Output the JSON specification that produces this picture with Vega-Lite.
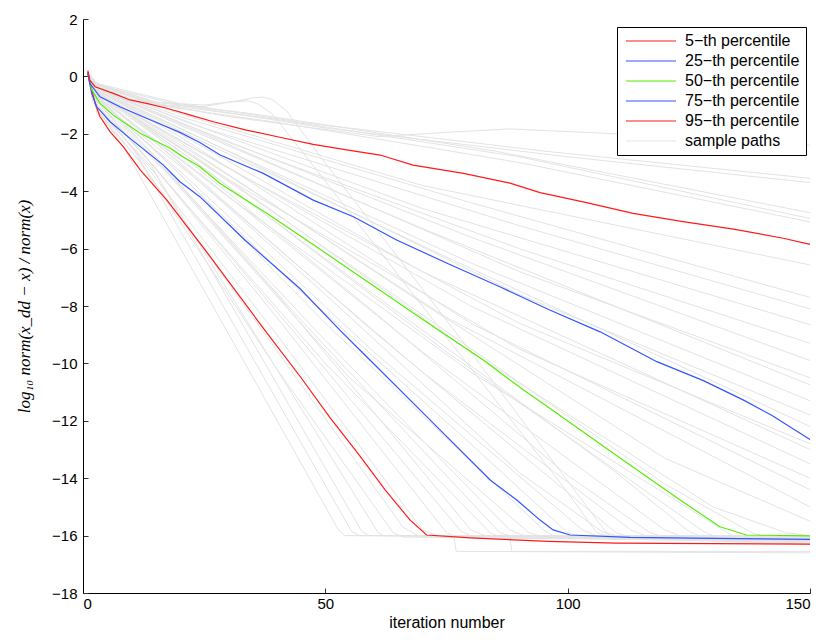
{
  "$schema": "https://vega.github.io/schema/vega-lite/v6.json",
  "width": 727,
  "height": 574,
  "autosize": {"type": "none"},
  "padding": {"left": 83, "top": 19, "right": 20, "bottom": 47},
  "background": "white",
  "config": {
    "view": {"stroke": null},
    "font": "Liberation Sans",
    "axis": {"grid": false, "domainColor": "#000", "tickColor": "#333", "labelColor": "#000", "titleColor": "#000", "labelFontSize": 15, "titleFontSize": 16, "titleFontWeight": "normal", "tickSize": -5}
  },
  "datasets": {
    "pct": [
      {"s":"5−th percentile","i":1,"v":0.15},{"s":"5−th percentile","i":1.5,"v":-0.25},{"s":"5−th percentile","i":2.5,"v":-0.94},{"s":"5−th percentile","i":3.5,"v":-1.4},{"s":"5−th percentile","i":5.6,"v":-1.93},{"s":"5−th percentile","i":8.3,"v":-2.45},{"s":"5−th percentile","i":11.8,"v":-3.26},{"s":"5−th percentile","i":17.3,"v":-4.31},{"s":"5−th percentile","i":25,"v":-6.0},{"s":"5−th percentile","i":37.5,"v":-8.84},{"s":"5−th percentile","i":45,"v":-10.5},{"s":"5−th percentile","i":51,"v":-11.9},{"s":"5−th percentile","i":57,"v":-13.2},{"s":"5−th percentile","i":62.3,"v":-14.4},{"s":"5−th percentile","i":67.5,"v":-15.46},{"s":"5−th percentile","i":70.9,"v":-15.98},{"s":"5−th percentile","i":80,"v":-16.08},{"s":"5−th percentile","i":96,"v":-16.2},{"s":"5−th percentile","i":110,"v":-16.26},{"s":"5−th percentile","i":150,"v":-16.3},
      {"s":"25−th percentile","i":1,"v":0.1},{"s":"25−th percentile","i":1.8,"v":-0.59},{"s":"25−th percentile","i":2.8,"v":-1.05},{"s":"25−th percentile","i":5.6,"v":-1.58},{"s":"25−th percentile","i":9.7,"v":-2.16},{"s":"25−th percentile","i":16.6,"v":-3.09},{"s":"25−th percentile","i":20,"v":-3.67},{"s":"25−th percentile","i":24.1,"v":-4.19},{"s":"25−th percentile","i":33.4,"v":-5.7},{"s":"25−th percentile","i":44.8,"v":-7.4},{"s":"25−th percentile","i":53,"v":-8.84},{"s":"25−th percentile","i":59.2,"v":-9.88},{"s":"25−th percentile","i":71.6,"v":-11.97},{"s":"25−th percentile","i":84,"v":-14.06},{"s":"25−th percentile","i":89.5,"v":-14.76},{"s":"25−th percentile","i":94.3,"v":-15.46},{"s":"25−th percentile","i":97,"v":-15.8},{"s":"25−th percentile","i":100.5,"v":-15.98},{"s":"25−th percentile","i":112.9,"v":-16.06},{"s":"25−th percentile","i":130,"v":-16.1},{"s":"25−th percentile","i":150,"v":-16.13},
      {"s":"50−th percentile","i":1,"v":0.13},{"s":"50−th percentile","i":1.8,"v":-0.47},{"s":"50−th percentile","i":3.5,"v":-0.94},{"s":"50−th percentile","i":6.25,"v":-1.35},{"s":"50−th percentile","i":11.8,"v":-1.98},{"s":"50−th percentile","i":18,"v":-2.5},{"s":"50−th percentile","i":20,"v":-2.74},{"s":"50−th percentile","i":24.1,"v":-3.15},{"s":"50−th percentile","i":28.3,"v":-3.73},{"s":"50−th percentile","i":37.9,"v":-4.77},{"s":"50−th percentile","i":46.1,"v":-5.7},{"s":"50−th percentile","i":60,"v":-7.3},{"s":"50−th percentile","i":73.3,"v":-8.84},{"s":"50−th percentile","i":82.6,"v":-9.88},{"s":"50−th percentile","i":90.9,"v":-10.93},{"s":"50−th percentile","i":96.3,"v":-11.56},{"s":"50−th percentile","i":110,"v":-13.2},{"s":"50−th percentile","i":123.2,"v":-14.76},{"s":"50−th percentile","i":131.4,"v":-15.69},{"s":"50−th percentile","i":136.9,"v":-15.98},{"s":"50−th percentile","i":150,"v":-16.01},
      {"s":"75−th percentile","i":1,"v":0.13},{"s":"75−th percentile","i":1.4,"v":-0.24},{"s":"75−th percentile","i":3.5,"v":-0.71},{"s":"75−th percentile","i":7.6,"v":-1.06},{"s":"75−th percentile","i":13.1,"v":-1.46},{"s":"75−th percentile","i":20,"v":-1.95},{"s":"75−th percentile","i":24.1,"v":-2.3},{"s":"75−th percentile","i":28.3,"v":-2.74},{"s":"75−th percentile","i":37.2,"v":-3.38},{"s":"75−th percentile","i":47.5,"v":-4.31},{"s":"75−th percentile","i":55.8,"v":-4.89},{"s":"75−th percentile","i":64.7,"v":-5.7},{"s":"75−th percentile","i":75,"v":-6.5},{"s":"75−th percentile","i":86,"v":-7.33},{"s":"75−th percentile","i":96.3,"v":-8.14},{"s":"75−th percentile","i":106.7,"v":-8.9},{"s":"75−th percentile","i":118.4,"v":-9.94},{"s":"75−th percentile","i":128,"v":-10.6},{"s":"75−th percentile","i":136.3,"v":-11.28},{"s":"75−th percentile","i":142,"v":-11.8},{"s":"75−th percentile","i":150,"v":-12.65},
      {"s":"95−th percentile","i":1,"v":0.2},{"s":"95−th percentile","i":1.4,"v":-0.13},{"s":"95−th percentile","i":2.5,"v":-0.36},{"s":"95−th percentile","i":6.25,"v":-0.59},{"s":"95−th percentile","i":9.7,"v":-0.82},{"s":"95−th percentile","i":13.1,"v":-0.94},{"s":"95−th percentile","i":17.3,"v":-1.11},{"s":"95−th percentile","i":22,"v":-1.34},{"s":"95−th percentile","i":26.9,"v":-1.58},{"s":"95−th percentile","i":33.7,"v":-1.87},{"s":"95−th percentile","i":40.6,"v":-2.12},{"s":"95−th percentile","i":47.5,"v":-2.37},{"s":"95−th percentile","i":54.4,"v":-2.56},{"s":"95−th percentile","i":61.3,"v":-2.74},{"s":"95−th percentile","i":68.1,"v":-3.09},{"s":"95−th percentile","i":78.5,"v":-3.38},{"s":"95−th percentile","i":88.1,"v":-3.72},{"s":"95−th percentile","i":94.3,"v":-4.05},{"s":"95−th percentile","i":103.2,"v":-4.37},{"s":"95−th percentile","i":113.5,"v":-4.77},{"s":"95−th percentile","i":123.8,"v":-5.06},{"s":"95−th percentile","i":134.2,"v":-5.32},{"s":"95−th percentile","i":144.5,"v":-5.64},{"s":"95−th percentile","i":150,"v":-5.85}
    ],
    "paths": [
      {"p":1,"i":1,"v":0.12},{"p":1,"i":2,"v":-0.9},{"p":1,"i":8.7,"v":-2.56},{"p":1,"i":52.7,"v":-15.8},{"p":1,"i":54,"v":-16.0},{"p":1,"i":150,"v":-16.05},
      {"p":2,"i":1,"v":0.1},{"p":2,"i":2,"v":-0.8},{"p":2,"i":10.7,"v":-2.6},{"p":2,"i":55.4,"v":-15.85},{"p":2,"i":57,"v":-16.0},{"p":2,"i":150,"v":-16.1},
      {"p":3,"i":1,"v":0.15},{"p":3,"i":3,"v":-1.2},{"p":3,"i":14.2,"v":-3.15},{"p":3,"i":57.5,"v":-15.85},{"p":3,"i":59,"v":-16.0},{"p":3,"i":150,"v":-16.0},
      {"p":4,"i":1,"v":0.1},{"p":4,"i":3,"v":-1.1},{"p":4,"i":15,"v":-3.4},{"p":4,"i":60.9,"v":-15.9},{"p":4,"i":62,"v":-16.0},{"p":4,"i":150,"v":-16.15},
      {"p":5,"i":1,"v":0.1},{"p":5,"i":3,"v":-1.3},{"p":5,"i":12,"v":-3.0},{"p":5,"i":40,"v":-10.2},{"p":5,"i":64,"v":-15.9},{"p":5,"i":66,"v":-16.05},{"p":5,"i":150,"v":-16.2},
      {"p":6,"i":1,"v":0.12},{"p":6,"i":3,"v":-1.2},{"p":6,"i":10,"v":-2.6},{"p":6,"i":30,"v":-7.2},{"p":6,"i":66,"v":-15.7},{"p":6,"i":69,"v":-16.0},{"p":6,"i":150,"v":-16.1},
      {"p":7,"i":1,"v":0.1},{"p":7,"i":3,"v":-1.0},{"p":7,"i":12,"v":-2.9},{"p":7,"i":40,"v":-9.0},{"p":7,"i":70,"v":-15.8},{"p":7,"i":73,"v":-16.0},{"p":7,"i":150,"v":-16.25},
      {"p":8,"i":1,"v":0.1},{"p":8,"i":3,"v":-0.9},{"p":8,"i":12,"v":-2.6},{"p":8,"i":40,"v":-8.4},{"p":8,"i":75,"v":-15.9},{"p":8,"i":76.5,"v":-16.0},{"p":8,"i":77,"v":-16.55},{"p":8,"i":150,"v":-16.6},
      {"p":9,"i":1,"v":0.15},{"p":9,"i":3,"v":-1.0},{"p":9,"i":15,"v":-3.2},{"p":9,"i":45,"v":-9.2},{"p":9,"i":78,"v":-15.85},{"p":9,"i":80,"v":-16.0},{"p":9,"i":150,"v":-16.2},
      {"p":10,"i":1,"v":0.1},{"p":10,"i":3,"v":-0.8},{"p":10,"i":12,"v":-2.3},{"p":10,"i":40,"v":-7.6},{"p":10,"i":80,"v":-15.8},{"p":10,"i":83,"v":-16.0},{"p":10,"i":150,"v":-16.1},
      {"p":11,"i":1,"v":0.12},{"p":11,"i":3,"v":-0.9},{"p":11,"i":20,"v":-4.2},{"p":11,"i":50,"v":-10.0},{"p":11,"i":84,"v":-15.9},{"p":11,"i":86,"v":-16.05},{"p":11,"i":150,"v":-16.15},
      {"p":12,"i":1,"v":0.1},{"p":12,"i":3,"v":-0.7},{"p":12,"i":15,"v":-2.8},{"p":12,"i":45,"v":-8.5},{"p":12,"i":86,"v":-15.9},{"p":12,"i":88,"v":-16.0},{"p":12,"i":88.5,"v":-16.55},{"p":12,"i":150,"v":-16.55},
      {"p":13,"i":1,"v":0.1},{"p":13,"i":3,"v":-0.8},{"p":13,"i":20,"v":-3.8},{"p":13,"i":50,"v":-9.2},{"p":13,"i":88,"v":-15.8},{"p":13,"i":91,"v":-16.0},{"p":13,"i":150,"v":-16.2},
      {"p":14,"i":1,"v":0.15},{"p":14,"i":3,"v":-0.9},{"p":14,"i":18,"v":-3.5},{"p":14,"i":55,"v":-10.5},{"p":14,"i":92,"v":-15.9},{"p":14,"i":94,"v":-16.0},{"p":14,"i":150,"v":-16.1},
      {"p":15,"i":1,"v":0.1},{"p":15,"i":3,"v":-0.75},{"p":15,"i":20,"v":-3.4},{"p":15,"i":50,"v":-8.6},{"p":15,"i":95,"v":-15.8},{"p":15,"i":97,"v":-16.0},{"p":15,"i":150,"v":-16.3},
      {"p":16,"i":1,"v":0.1},{"p":16,"i":3,"v":-0.7},{"p":16,"i":15,"v":-2.6},{"p":16,"i":45,"v":-7.5},{"p":16,"i":80,"v":-12.8},{"p":16,"i":100,"v":-15.9},{"p":16,"i":102,"v":-16.0},{"p":16,"i":150,"v":-16.15},
      {"p":17,"i":1,"v":0.12},{"p":17,"i":3,"v":-0.8},{"p":17,"i":20,"v":-3.3},{"p":17,"i":60,"v":-9.6},{"p":17,"i":103,"v":-15.8},{"p":17,"i":106,"v":-16.0},{"p":17,"i":150,"v":-16.1},
      {"p":18,"i":1,"v":0.1},{"p":18,"i":3,"v":-0.6},{"p":18,"i":15,"v":-2.3},{"p":18,"i":50,"v":-7.6},{"p":18,"i":90,"v":-13.8},{"p":18,"i":107,"v":-15.85},{"p":18,"i":109,"v":-16.0},{"p":18,"i":150,"v":-16.2},
      {"p":19,"i":1,"v":0.1},{"p":19,"i":3,"v":-0.7},{"p":19,"i":20,"v":-3.0},{"p":19,"i":60,"v":-8.9},{"p":19,"i":110,"v":-15.9},{"p":19,"i":112,"v":-16.0},{"p":19,"i":150,"v":-16.1},
      {"p":20,"i":1,"v":0.15},{"p":20,"i":3,"v":-0.8},{"p":20,"i":25,"v":-3.8},{"p":20,"i":70,"v":-10.3},{"p":20,"i":113,"v":-15.8},{"p":20,"i":116,"v":-16.0},{"p":20,"i":150,"v":-16.15},
      {"p":21,"i":1,"v":0.1},{"p":21,"i":3,"v":-0.6},{"p":21,"i":20,"v":-2.7},{"p":21,"i":60,"v":-8.2},{"p":21,"i":100,"v":-13.9},{"p":21,"i":117,"v":-15.9},{"p":21,"i":119,"v":-16.0},{"p":21,"i":150,"v":-16.05},
      {"p":22,"i":1,"v":0.1},{"p":22,"i":3,"v":-0.7},{"p":22,"i":25,"v":-3.5},{"p":22,"i":70,"v":-9.6},{"p":22,"i":120,"v":-15.8},{"p":22,"i":123,"v":-16.0},{"p":22,"i":150,"v":-16.1},
      {"p":23,"i":1,"v":0.12},{"p":23,"i":3,"v":-0.65},{"p":23,"i":20,"v":-2.6},{"p":23,"i":60,"v":-7.6},{"p":23,"i":110,"v":-13.8},{"p":23,"i":125,"v":-15.85},{"p":23,"i":127,"v":-16.0},{"p":23,"i":150,"v":-16.2},
      {"p":24,"i":1,"v":0.1},{"p":24,"i":3,"v":-0.55},{"p":24,"i":25,"v":-3.2},{"p":24,"i":75,"v":-9.6},{"p":24,"i":128,"v":-15.85},{"p":24,"i":130,"v":-16.0},{"p":24,"i":150,"v":-16.1},
      {"p":25,"i":1,"v":0.1},{"p":25,"i":3,"v":-0.7},{"p":25,"i":30,"v":-4.2},{"p":25,"i":80,"v":-10.3},{"p":25,"i":132,"v":-15.8},{"p":25,"i":134,"v":-16.0},{"p":25,"i":150,"v":-16.15},
      {"p":26,"i":1,"v":0.15},{"p":26,"i":3,"v":-0.6},{"p":26,"i":20,"v":-2.5},{"p":26,"i":70,"v":-8.3},{"p":26,"i":120,"v":-14.2},{"p":26,"i":138,"v":-15.9},{"p":26,"i":140,"v":-16.0},{"p":26,"i":150,"v":-16.05},
      {"p":27,"i":1,"v":0.1},{"p":27,"i":3,"v":-0.6},{"p":27,"i":25,"v":-3.0},{"p":27,"i":80,"v":-9.6},{"p":27,"i":130,"v":-15.0},{"p":27,"i":145,"v":-15.9},{"p":27,"i":150,"v":-16.0},
      {"p":28,"i":1,"v":0.12},{"p":28,"i":3,"v":-0.55},{"p":28,"i":20,"v":-2.3},{"p":28,"i":70,"v":-7.9},{"p":28,"i":120,"v":-13.3},{"p":28,"i":150,"v":-15.5},
      {"p":29,"i":1,"v":0.1},{"p":29,"i":3,"v":-0.6},{"p":29,"i":25,"v":-2.9},{"p":29,"i":75,"v":-8.4},{"p":29,"i":150,"v":-15.0},
      {"p":30,"i":1,"v":0.1},{"p":30,"i":3,"v":-0.5},{"p":30,"i":20,"v":-2.1},{"p":30,"i":80,"v":-8.6},{"p":30,"i":150,"v":-14.4},
      {"p":31,"i":1,"v":0.15},{"p":31,"i":3,"v":-0.6},{"p":31,"i":30,"v":-3.6},{"p":31,"i":90,"v":-9.5},{"p":31,"i":150,"v":-14.0},
      {"p":32,"i":1,"v":0.1},{"p":32,"i":3,"v":-0.55},{"p":32,"i":25,"v":-2.7},{"p":32,"i":80,"v":-8.0},{"p":32,"i":150,"v":-13.5},
      {"p":33,"i":1,"v":0.1},{"p":33,"i":3,"v":-0.5},{"p":33,"i":20,"v":-2.0},{"p":33,"i":70,"v":-6.8},{"p":33,"i":150,"v":-13.0},
      {"p":34,"i":1,"v":0.12},{"p":34,"i":3,"v":-0.6},{"p":34,"i":30,"v":-3.2},{"p":34,"i":90,"v":-8.6},{"p":34,"i":150,"v":-12.8},
      {"p":35,"i":1,"v":0.1},{"p":35,"i":3,"v":-0.5},{"p":35,"i":20,"v":-1.9},{"p":35,"i":70,"v":-5.9},{"p":35,"i":150,"v":-12.2},
      {"p":36,"i":1,"v":0.1},{"p":36,"i":3,"v":-0.45},{"p":36,"i":25,"v":-2.2},{"p":36,"i":90,"v":-7.6},{"p":36,"i":150,"v":-11.8},
      {"p":37,"i":1,"v":0.15},{"p":37,"i":3,"v":-0.5},{"p":37,"i":30,"v":-2.6},{"p":37,"i":80,"v":-6.5},{"p":37,"i":150,"v":-11.3},
      {"p":38,"i":1,"v":0.1},{"p":38,"i":3,"v":-0.4},{"p":38,"i":20,"v":-1.7},{"p":38,"i":70,"v":-5.3},{"p":38,"i":150,"v":-10.75},
      {"p":39,"i":1,"v":0.1},{"p":39,"i":3,"v":-0.45},{"p":39,"i":25,"v":-2.0},{"p":39,"i":90,"v":-6.8},{"p":39,"i":150,"v":-10.5},
      {"p":40,"i":1,"v":0.12},{"p":40,"i":3,"v":-0.4},{"p":40,"i":20,"v":-1.6},{"p":40,"i":80,"v":-5.6},{"p":40,"i":150,"v":-9.9},
      {"p":41,"i":1,"v":0.1},{"p":41,"i":3,"v":-0.4},{"p":41,"i":30,"v":-2.3},{"p":41,"i":90,"v":-6.0},{"p":41,"i":150,"v":-9.3},
      {"p":42,"i":1,"v":0.1},{"p":42,"i":3,"v":-0.35},{"p":42,"i":20,"v":-1.5},{"p":42,"i":70,"v":-4.6},{"p":42,"i":150,"v":-8.65},
      {"p":43,"i":1,"v":0.1},{"p":43,"i":3,"v":-0.4},{"p":43,"i":25,"v":-1.8},{"p":43,"i":90,"v":-5.2},{"p":43,"i":150,"v":-8.1},
      {"p":44,"i":1,"v":0.12},{"p":44,"i":3,"v":-0.35},{"p":44,"i":20,"v":-1.4},{"p":44,"i":80,"v":-4.4},{"p":44,"i":150,"v":-7.7},
      {"p":45,"i":1,"v":0.1},{"p":45,"i":3,"v":-0.3},{"p":45,"i":20,"v":-1.3},{"p":45,"i":70,"v":-3.8},{"p":45,"i":150,"v":-6.57},
      {"p":46,"i":1,"v":0.1},{"p":46,"i":3,"v":-0.3},{"p":46,"i":15,"v":-1.0},{"p":46,"i":40,"v":-1.6},{"p":46,"i":90,"v":-3.0},{"p":46,"i":150,"v":-5.07},
      {"p":47,"i":1,"v":0.12},{"p":47,"i":3,"v":-0.3},{"p":47,"i":15,"v":-0.95},{"p":47,"i":40,"v":-1.5},{"p":47,"i":90,"v":-2.8},{"p":47,"i":150,"v":-4.95},
      {"p":48,"i":1,"v":0.1},{"p":48,"i":3,"v":-0.25},{"p":48,"i":15,"v":-0.9},{"p":48,"i":35,"v":-1.3},{"p":48,"i":85,"v":-2.6},{"p":48,"i":150,"v":-4.75},
      {"p":49,"i":1,"v":0.15},{"p":49,"i":3,"v":-0.3},{"p":49,"i":20,"v":-1.0},{"p":49,"i":50,"v":-1.8},{"p":49,"i":100,"v":-2.8},{"p":49,"i":150,"v":-3.7},
      {"p":50,"i":1,"v":0.1},{"p":50,"i":3,"v":-0.25},{"p":50,"i":20,"v":-0.95},{"p":50,"i":45,"v":-1.6},{"p":50,"i":95,"v":-2.6},{"p":50,"i":150,"v":-3.55},
      {"p":51,"i":1,"v":0.12},{"p":51,"i":3,"v":-0.3},{"p":51,"i":15,"v":-0.95},{"p":51,"i":30,"v":-1.4},{"p":51,"i":61,"v":-2.1},{"p":51,"i":75,"v":-1.95},{"p":51,"i":88,"v":-1.83},{"p":51,"i":110,"v":-2.0},{"p":51,"i":150,"v":-2.4},
      {"p":52,"i":1,"v":0.1},{"p":52,"i":3,"v":-0.25},{"p":52,"i":15,"v":-0.9},{"p":52,"i":25,"v":-1.0},{"p":52,"i":32,"v":-0.85},{"p":52,"i":35,"v":-0.75},{"p":52,"i":37,"v":-0.72},{"p":52,"i":39,"v":-0.8},{"p":52,"i":42,"v":-1.2},{"p":52,"i":49,"v":-2.8},{"p":52,"i":58.6,"v":-4.9},{"p":52,"i":80,"v":-9.6},{"p":52,"i":108,"v":-15.9},{"p":52,"i":110,"v":-16.0},{"p":52,"i":150,"v":-16.1},
      {"p":53,"i":1,"v":0.1},{"p":53,"i":3,"v":-0.3},{"p":53,"i":15,"v":-1.0},{"p":53,"i":25,"v":-1.05},{"p":53,"i":30,"v":-0.9},{"p":53,"i":34,"v":-0.85},{"p":53,"i":36,"v":-0.95},{"p":53,"i":39,"v":-1.3},{"p":53,"i":47,"v":-3.0},{"p":53,"i":70,"v":-8.0},{"p":53,"i":100,"v":-14.5},{"p":53,"i":106,"v":-15.9},{"p":53,"i":108,"v":-16.0},{"p":53,"i":150,"v":-16.2}
    ]
  },
  "encoding": {
    "x": {"field": "i", "type": "quantitative", "scale": {"domain": [0, 150], "nice": false},
      "axis": {"title": "iteration number", "values": [0, 50, 100, 150], "labelPadding": 8, "titlePadding": 3}},
    "y": {"field": "v", "type": "quantitative", "scale": {"domain": [-18, 2], "nice": false},
      "axis": {"title": "log₁₀ norm(x_dd − x) / norm(x)", "values": [2, 0, -2, -4, -6, -8, -10, -12, -14, -16, -18], "labelPadding": 11, "titleFont": "Liberation Serif", "titleFontStyle": "italic", "titleFontSize": 17, "titlePadding": 18}}
  },
  "layer": [
    {
      "data": {"name": "paths"},
      "mark": {"type": "line", "strokeWidth": 1, "color": "#e3e3e3"},
      "encoding": {"detail": {"field": "p", "type": "nominal"}}
    },
    {
      "data": {"name": "pct"},
      "mark": {"type": "line", "strokeWidth": 1.2},
      "encoding": {
        "color": {"field": "s", "type": "nominal",
          "scale": {"domain": ["5−th percentile", "25−th percentile", "50−th percentile", "75−th percentile", "95−th percentile", "sample paths"],
                    "range": ["#ff1a1a", "#3355ff", "#55ee00", "#3355ff", "#ff1a1a", "#e3e3e3"]},
          "legend": {"title": null, "orient": "none", "legendX": 534, "legendY": 8, "symbolType": "M-5,0H5", "symbolSize": 100, "symbolStrokeWidth": 1.2, "symbolOffset": 20, "labelOffset": 26, "labelFontSize": 16, "labelColor": "#000", "strokeColor": "#000", "fillColor": "#fff", "padding": 6, "rowPadding": 4}
        }
      }
    }
  ]
}
